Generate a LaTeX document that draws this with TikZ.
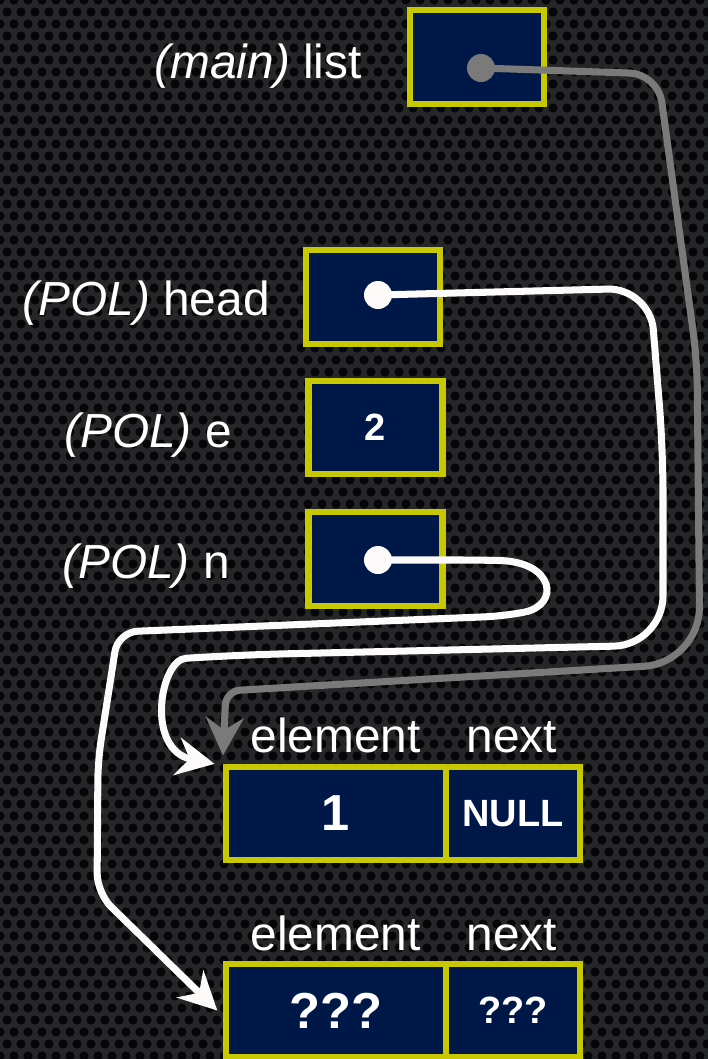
\documentclass[tikz,border=0pt]{standalone}
\usepackage{fontspec}
\setmainfont{Liberation Sans}
\usetikzlibrary{arrows.meta}
\definecolor{bgdark}{RGB}{36,38,40}
\definecolor{bghole}{RGB}{6,6,8}
\definecolor{boxnavy}{RGB}{0,24,72}
\definecolor{boxrim}{RGB}{200,200,0}
\definecolor{ptrgray}{RGB}{122,122,122}
\definecolor{ptrwhite}{RGB}{253,250,250}

\begin{document}
\begin{tikzpicture}[x=0.025cm, y=-0.025cm,
    >={Stealth[length=27pt, width=27pt, inset=9pt]},
    cell/.style={draw=boxrim, fill=boxnavy, line width=4.3pt, inner sep=0pt,
      minimum width=3.35cm, minimum height=2.33cm, text=white, font=\fontsize{27}{32}\selectfont\bfseries},
    bigval/.style={font=\fontsize{36}{42}\selectfont\bfseries},
    lbl/.style={text=white, inner sep=0pt, font=\fontsize{34}{40}\selectfont},
    dot/.style={circle, fill=ptrwhite, inner sep=0pt, minimum size=0.7cm},
    ptr/.style={line width=5pt, line cap=round}]
    \fill[bgdark] (0,0) rectangle (708,1059);
    \useasboundingbox (0,0) rectangle (708,1059);
    % perforated backdrop
    \foreach \row in {0,...,89} {
      \pgfmathsetmacro\rowshift{mod(\row,2)*7}
      \foreach \col in {0,...,51}
        \fill[bghole] (\col*14+\rowshift, \row*12) circle[radius=4.6];
    }

    % variables on the stack
    \node[cell] (mainlist) at (477,57) {};
    \node[lbl, anchor=base east] (mainlbl) at (362,78) {\textit{(main)} list};

    \node[cell] (head) at (373,297) {};
    \node[lbl, anchor=base east] (headlbl) at (270,315) {\textit{(POL)} head};

    \node[cell] (e) at (375.5,427.5) {2};
    \node[lbl, anchor=base east] (elbl) at (232,447) {\textit{(POL)} e};

    \node[cell] (n) at (375.5,559) {};
    \node[lbl, anchor=base east] (nlbl) at (230,578) {\textit{(POL)} n};

    % the two list nodes on the heap
    \node[cell, bigval, minimum width=5.5cm] (elem1) at (336,813.5) {1};
    \node[cell] (next1) at (513,813.5) {NULL};
    \node[lbl, anchor=base] (elem1lbl) at (335.5,752) {element};
    \node[lbl, anchor=base] (next1lbl) at (512,752) {next};

    \node[cell, bigval, minimum width=5.5cm] (elem2) at (336,1010.5) {???};
    \node[cell] (next2) at (513,1010.5) {???};
    \node[lbl, anchor=base] (elem2lbl) at (335.5,950) {element};
    \node[lbl, anchor=base] (next2lbl) at (512,950) {next};

    % pointers
    \node[dot, fill=ptrgray] (maindot) at (481,68) {};
    \node[dot] (headdot) at (378,295) {};
    \node[dot] (ndot) at (378,560) {};

    \draw[->, ptr, ptrgray, rounded corners=20pt] (maindot.center) -- (658,74) -- (697,360)
      [rounded corners=40pt] -- (700,663) [rounded corners=10pt] -- (226,691)
      -- ([yshift=6pt]elem1.north west);
    \draw[->, ptr, ptrwhite, rounded corners=30pt] (headdot.center) -- (650,288) -- (663,450)
      [rounded corners=35pt] -- (663,645) -- (235,655)
      .. controls (160,660) and (145,750) .. ([xshift=-6pt]elem1.north west);
    \draw[->, ptr, ptrwhite, rounded corners=14pt] (ndot.center) -- (480,560)
      .. controls (555,562) and (560,605) .. (505,616) -- (118,632) -- (98,760) -- (97,893)
      -- ([xshift=-4pt]elem2.west);
  \end{tikzpicture}
\end{document}
